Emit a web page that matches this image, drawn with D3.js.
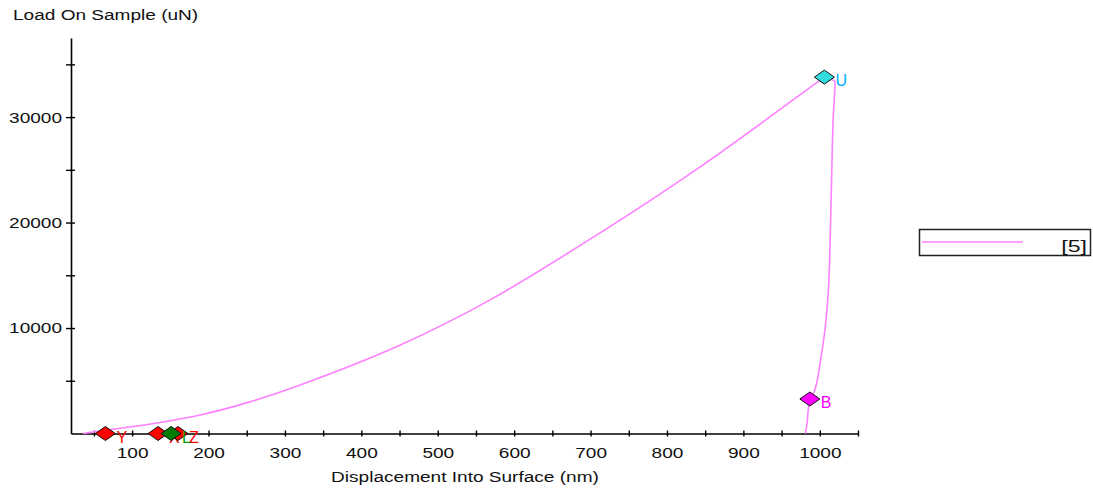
<!DOCTYPE html>
<html>
<head>
<meta charset="utf-8">
<script src="https://cdn.jsdelivr.net/npm/d3@7"></script>
<style>
  body { margin: 0; background: #fff; }
  text { font-family: Arial, "Liberation Sans", sans-serif; }
</style>
</head>
<body>
<div id="chart"></div>
<script>
// loading segment (nm, uN)
const loadDisp = [36, 58, 124, 189, 254, 320, 451, 568, 712, 843, 974, 1006];
const loadForce = [0, 240, 900, 1750, 3000, 4600, 8390, 12650, 19000, 25260, 32100, 33790];

// hold + unloading segment
const unloadDisp = [1006, 1020, 1018, 1015, 1011, 1001, 992, 987, 982, 981];
const unloadForce = [33790, 33360, 30660, 22800, 13300, 6970, 3840, 3270, 330, 0];

// marked points
const markLabels = ['Y', 'X', 'Z', 'L', 'U', 'B'];
const markDisp = [65, 134, 160, 151, 1006, 987];
const markForce = [0, 0, 0, 0, 33790, 3270];

const xTicks = d3.range(50, 1051, 50);
const yTicks = d3.range(5000, 35001, 5000);
const legendLabel = '[5]';

const markStyle = {
  Y: { fill: '#ff0000', text: '#ff0000' },
  X: { fill: '#ff0000', text: '#ff0000' },
  Z: { fill: '#ff0000', text: '#ff0000' },
  L: { fill: '#007a00', text: '#00a000' },
  U: { fill: '#33dddd', text: '#00b0ff' },
  B: { fill: '#ff00ff', text: '#ff00ff' }
};

const width = 1093;
const height = 491;
const curveColor = '#ff80ff';
const stretch = 1.36;

const svg = d3.select('#chart')
  .append('svg')
  .attr('width', width)
  .attr('height', height);

const x = d3.scaleLinear()
  .domain([20, 1050])
  .range([71, 858]);

const y = d3.scaleLinear()
  .domain([0, 37500])
  .range([433.5, 38]);

// axes
const xAxis = svg.append('g')
  .attr('transform', `translate(0, ${y(0)})`)
  .call(d3.axisBottom(x).tickValues(xTicks).tickSizeOuter(0)
    .tickFormat(d => d % 100 === 0 ? d : ''));
xAxis.select('.domain').attr('stroke', '#000').attr('stroke-width', 1.6);
xAxis.selectAll('.tick line').attr('y1', -3).attr('y2', 3).attr('stroke-width', 1.4);
xAxis.selectAll('.tick text')
  .attr('class', 'wide')
  .attr('y', 24).attr('dy', 0)
  .attr('font-size', 14).attr('fill', '#111');

const yAxis = svg.append('g')
  .attr('transform', `translate(${x(20)}, 0)`)
  .call(d3.axisLeft(y).tickValues(yTicks).tickSizeOuter(0)
    .tickFormat(d => d % 10000 === 0 ? d : ''));
yAxis.select('.domain').attr('stroke', '#000').attr('stroke-width', 1.6);
yAxis.selectAll('.tick line').attr('x1', 4).attr('x2', -5).attr('stroke-width', 1.4);
yAxis.selectAll('.tick text')
  .attr('class', 'wide')
  .attr('x', -9).attr('dy', '0.35em')
  .attr('font-size', 14).attr('fill', '#111');

// titles
svg.append('text')
  .attr('class', 'wide')
  .attr('x', 13).attr('y', 20)
  .attr('font-size', 14).attr('fill', '#111')
  .text('Load On Sample (uN)');

svg.append('text')
  .attr('class', 'wide')
  .attr('x', 465).attr('y', 482)
  .attr('text-anchor', 'middle')
  .attr('font-size', 14).attr('fill', '#111')
  .text('Displacement Into Surface (nm)');

// curves
const line = d3.line()
  .x(d => x(d[0]))
  .y(d => y(d[1]));

svg.append('path')
  .datum(d3.zip(loadDisp, loadForce))
  .attr('fill', 'none')
  .attr('stroke', curveColor)
  .attr('stroke-width', 1.6)
  .attr('d', line.curve(d3.curveCatmullRom));

svg.append('path')
  .datum(d3.zip(unloadDisp, unloadForce))
  .attr('fill', 'none')
  .attr('stroke', curveColor)
  .attr('stroke-width', 1.6)
  .attr('d', line.curve(d3.curveMonotoneY));

// markers
const marks = markLabels.map((l, i) => ({ label: l, h: markDisp[i], p: markForce[i] }));

const mg = svg.append('g')
  .selectAll('g')
  .data(marks)
  .join('g')
  .attr('transform', d => `translate(${x(d.h)}, ${y(d.p)})`);

mg.append('path')
  .attr('d', 'M-10,0L0,-7L10,0L0,7Z')
  .attr('fill', d => markStyle[d.label].fill)
  .attr('stroke', '#111')
  .attr('stroke-width', 1);

mg.append('text')
  .attr('x', 11).attr('y', 9)
  .attr('font-size', 16)
  .attr('fill', d => markStyle[d.label].text)
  .text(d => d.label);

// legend
const lg = svg.append('g');
lg.append('rect')
  .attr('x', 919.5).attr('y', 229.5)
  .attr('width', 171).attr('height', 26)
  .attr('fill', '#fff')
  .attr('stroke', '#222')
  .attr('stroke-width', 1.5);
lg.append('line')
  .attr('x1', 922).attr('x2', 1023)
  .attr('y1', 242).attr('y2', 242)
  .attr('stroke', curveColor)
  .attr('stroke-width', 1.6);
lg.append('text')
  .attr('class', 'wide')
  .attr('x', 1087).attr('y', 252)
  .attr('text-anchor', 'end')
  .attr('font-size', 17).attr('fill', '#111')
  .text(legendLabel);

// the original renders its text noticeably wide
svg.selectAll('text.wide').each(function () {
  const len = this.getComputedTextLength();
  if (len > 0) {
    d3.select(this)
      .attr('textLength', len * stretch)
      .attr('lengthAdjust', 'spacingAndGlyphs');
  }
});
</script>
</body>
</html>
